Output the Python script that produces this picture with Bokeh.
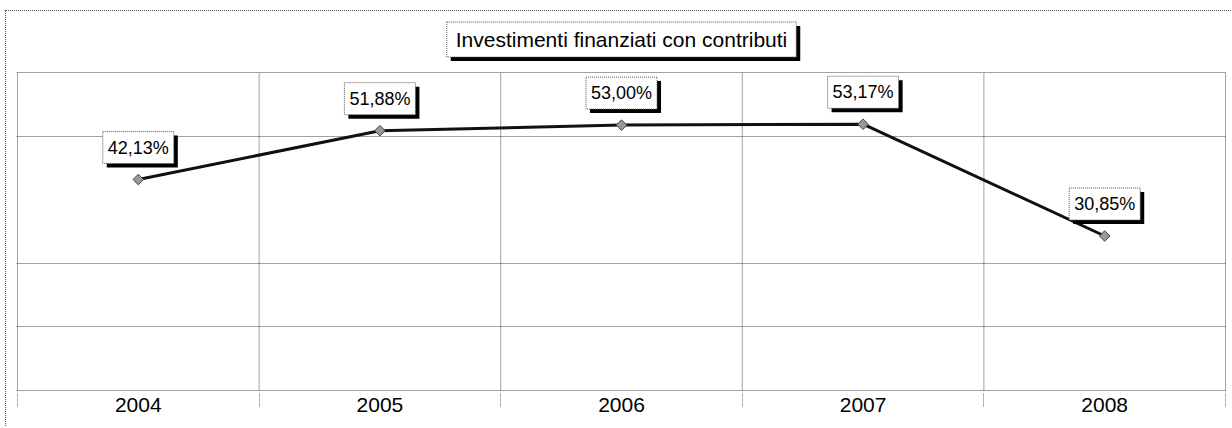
import numpy as np
from bokeh.plotting import figure
from bokeh.models import ColumnDataSource, FixedTicker, Range1d
from bokeh.core.properties import value
from bokeh.embed import file_html
from bokeh.resources import INLINE

# ---- data ----
years = ["2004", "2005", "2006", "2007", "2008"]
shares = [42.13, 51.88, 53.00, 53.17, 30.85]
title_text = "Investimenti finanziati con contributi"

idx = np.arange(len(years))
labels = [f"{v:.2f}".replace(".", ",") + "%" for v in shares]
src = ColumnDataSource(dict(x=idx, y=shares, label=labels))

FONT = value("Liberation Sans")
YMAX = 63.5
step = YMAX / 5
n = len(years)

# layout (pixels)
PLOT_H, TITLE_BAND, EDGE_Y, EDGE_X = 318, 61, 2, 1
PLOT_W = 1208
dx = EDGE_X * n / PLOT_W
dy = EDGE_Y * YMAX / PLOT_H

p = figure(width=1226, height=416, output_backend="svg", toolbar_location=None,
           x_range=Range1d(-0.5 - dx, n - 0.5 + dx),
           y_range=Range1d(-dy, YMAX * (PLOT_H + TITLE_BAND) / PLOT_H),
           min_border_left=10, min_border_right=6, min_border_top=0, min_border_bottom=35)
p.styles = {"border-left": "1px dotted #555", "border-top": "1px dotted #555",
            "margin-left": "5px", "margin-top": "10px"}
p.background_fill_color = "white"
p.border_fill_color = "white"
p.outline_line_color = None

GRID_DASH = "1 1"
# horizontal grid lines (plot-area top/bottom included)
p.yaxis.visible = False
p.ygrid.ticker = FixedTicker(ticks=[0, step, 2 * step, 4 * step, YMAX])
p.ygrid.grid_line_color = "#444"
p.ygrid.grid_line_dash = GRID_DASH

# vertical lines at category boundaries, only inside the plot area
bounds = list(np.arange(n + 1) - 0.5)
bsrc = ColumnDataSource(dict(x=bounds, y0=[0] * len(bounds), y1=[YMAX] * len(bounds)))
p.xgrid.visible = False
p.segment(x0="x", y0="y0", x1="x", y1="y1", source=bsrc, line_color="#444",
          line_dash=GRID_DASH, line_width=1)

# x axis: labels at centres, dotted ticks at category boundaries
p.xaxis.ticker = FixedTicker(ticks=list(idx), minor_ticks=bounds)
p.xaxis.major_label_overrides = {int(i): y for i, y in zip(idx, years)}
p.xaxis.axis_line_color = None
p.xaxis.major_tick_line_color = None
p.xaxis.minor_tick_line_color = "#666"
p.xaxis.minor_tick_line_dash = GRID_DASH
p.xaxis.minor_tick_in = 0
p.xaxis.minor_tick_out = 14
p.xaxis.major_label_text_font = "Liberation Sans"
p.xaxis.major_label_text_font_size = "21px"
p.xaxis.major_label_text_color = "black"
p.xaxis.major_label_standoff = -9

# line + markers
p.line("x", "y", source=src, line_color="#111", line_width=3)
p.scatter("x", "y", source=src, marker="square", size=7.5, angle=np.pi / 4,
          fill_color="#999999", line_color="#444", line_width=1)

# data labels with shadow
pad = dict(left=5, right=5, top=6, bottom=6)
p.text("x", "y", text="label", source=src, text_font=FONT, text_font_size="18px",
       text_align="center", text_baseline="bottom", x_offset=4, y_offset=-12,
       text_alpha=0, background_fill_color="black", padding=pad)
p.text("x", "y", text="label", source=src, text_font=FONT, text_font_size="18px",
       text_color="black", text_align="center", text_baseline="bottom", y_offset=-16,
       background_fill_color="white", border_line_color="#555", border_line_dash="1 1",
       padding=pad)

# title box with shadow (in the band above the plot area)
tsrc = ColumnDataSource(dict(x=[(n - 1) / 2], y=[YMAX * (1 + 33 / PLOT_H)], t=[title_text]))
tpad = dict(left=9, right=9, top=6, bottom=6)
p.text("x", "y", text="t", source=tsrc, text_font=FONT, text_font_size="21px",
       text_align="center", text_baseline="middle", x_offset=4, y_offset=4,
       text_alpha=0, background_fill_color="black", padding=tpad)
p.text("x", "y", text="t", source=tsrc, text_font=FONT, text_font_size="21px",
       text_color="black", text_align="center", text_baseline="middle",
       background_fill_color="white", border_line_color="#555", border_line_dash="1 1",
       padding=tpad)

open("out.html", "w").write(file_html(p, INLINE))
